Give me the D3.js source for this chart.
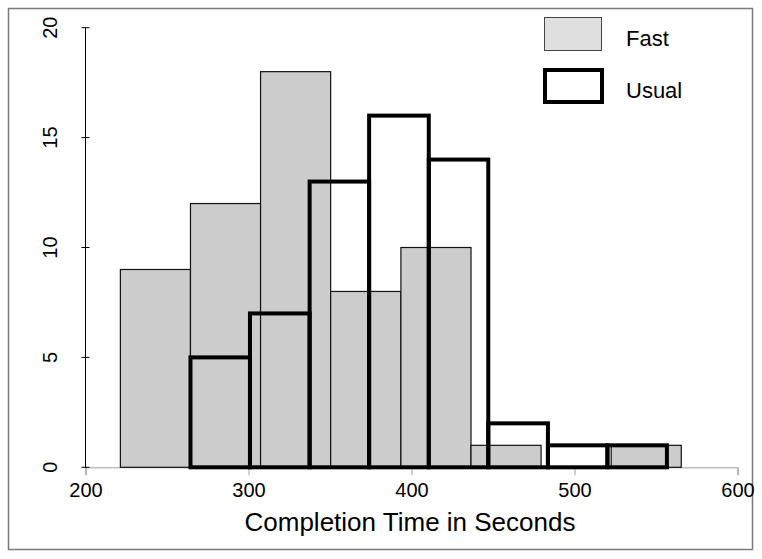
<!DOCTYPE html>
<html>
<head>
<meta charset="utf-8">
<script src="https://cdn.jsdelivr.net/npm/d3@7"></script>
<style>
  body { margin: 0; background: #fff; }
  text { font-family: "Liberation Sans", Arial, sans-serif; fill: #000; }
</style>
</head>
<body>
<div id="chart"></div>
<script>
// histogram bins
var fastBreaks = [221.4, 264.4, 307.4, 350.4, 393.5, 436.5, 479.5, 522.5, 565.5];
var fastCounts = [9, 12, 18, 8, 10, 1, 0, 1];
var usualBreaks = [264.4, 300.9, 337.5, 374.0, 410.6, 447.1, 483.7, 520.2, 556.7];
var usualCounts = [5, 7, 13, 16, 14, 2, 1, 1];
var xTicks = [200, 300, 400, 500, 600];
var yTicks = [0, 5, 10, 15, 20];
var legendNames = ['Fast', 'Usual'];

var width = 762, height = 559;

var svg = d3.select('#chart')
    .append('svg')
    .attr('width', width)
    .attr('height', height);

// outer frame
svg.append('rect')
    .attr('x', 8.5).attr('y', 8.5)
    .attr('width', 744).attr('height', 541)
    .attr('fill', 'none')
    .attr('stroke', '#7a7a7a')
    .attr('stroke-width', 1.5);

var x = d3.scaleLinear().domain([200, 600]).range([85.5, 737.5]);
var y = d3.scaleLinear().domain([0, 20]).range([467.3, 27.7]);

function bins(breaks, counts) {
    return counts.map(function(c, i) {
        return {x0: breaks[i], x1: breaks[i + 1], n: c};
    });
}

// x axis: light grey line with ticks
var xAxis = svg.append('g')
    .attr('transform', 'translate(0,' + y(0) + ')')
    .call(d3.axisBottom(x).tickValues(xTicks).tickSize(8).tickPadding(8));
xAxis.select('.domain').attr('stroke', '#a0a0a0');
xAxis.selectAll('.tick line').attr('stroke', '#a0a0a0');
xAxis.selectAll('.tick text')
    .attr('font-size', 20)
    .attr('font-family', '"Liberation Sans", Arial, sans-serif')
    .attr('fill', '#000');

// y axis
var yAxis = svg.append('g')
    .attr('transform', 'translate(' + x(200) + ',0)');
yAxis.append('line')
    .attr('y1', y(0)).attr('y2', y(20))
    .attr('stroke', '#000');
yAxis.selectAll('.yt')
    .data(yTicks)
    .enter()
    .append('line')
    .attr('x1', -4).attr('x2', 4)
    .attr('y1', function(d) { return y(d); })
    .attr('y2', function(d) { return y(d); })
    .attr('stroke', '#000');
yAxis.selectAll('.yl')
    .data(yTicks)
    .enter()
    .append('text')
    .attr('transform', function(d) { return 'translate(-28.5,' + y(d) + ') rotate(-90)'; })
    .attr('text-anchor', 'middle')
    .attr('font-size', 20)
    .text(function(d) { return d; });

// fast histogram (grey)
svg.append('g').selectAll('rect')
    .data(bins(fastBreaks, fastCounts).filter(function(d) { return d.n > 0; }))
    .enter()
    .append('rect')
    .attr('x', function(d) { return x(d.x0); })
    .attr('width', function(d) { return x(d.x1) - x(d.x0); })
    .attr('y', function(d) { return y(d.n); })
    .attr('height', function(d) { return y(0) - y(d.n); })
    .attr('fill', '#cccccc')
    .attr('stroke', '#111')
    .attr('stroke-width', 1.2);

// usual histogram (thick outline)
svg.append('g').selectAll('rect')
    .data(bins(usualBreaks, usualCounts))
    .enter()
    .append('rect')
    .attr('x', function(d) { return x(d.x0); })
    .attr('width', function(d) { return x(d.x1) - x(d.x0); })
    .attr('y', function(d) { return y(d.n); })
    .attr('height', function(d) { return y(0) - y(d.n); })
    .attr('fill', 'none')
    .attr('stroke', '#000')
    .attr('stroke-width', 4);

// axis title
svg.append('text')
    .attr('x', 410)
    .attr('y', 531)
    .attr('text-anchor', 'middle')
    .attr('font-size', 26)
    .text('Completion Time in Seconds');

// legend
var legend = svg.append('g');
legend.append('rect')
    .attr('x', 544.5).attr('y', 17.5)
    .attr('width', 57).attr('height', 33)
    .attr('fill', '#dfdfdf')
    .attr('stroke', '#444')
    .attr('stroke-width', 1);
legend.append('rect')
    .attr('x', 545).attr('y', 70)
    .attr('width', 57).attr('height', 32)
    .attr('fill', '#fff')
    .attr('stroke', '#000')
    .attr('stroke-width', 4);
legend.selectAll('.lt')
    .data(legendNames)
    .enter()
    .append('text')
    .attr('x', 626)
    .attr('y', function(d, i) { return 46 + i * 52; })
    .attr('font-size', 22)
    .text(function(d) { return d; });
</script>
</body>
</html>
